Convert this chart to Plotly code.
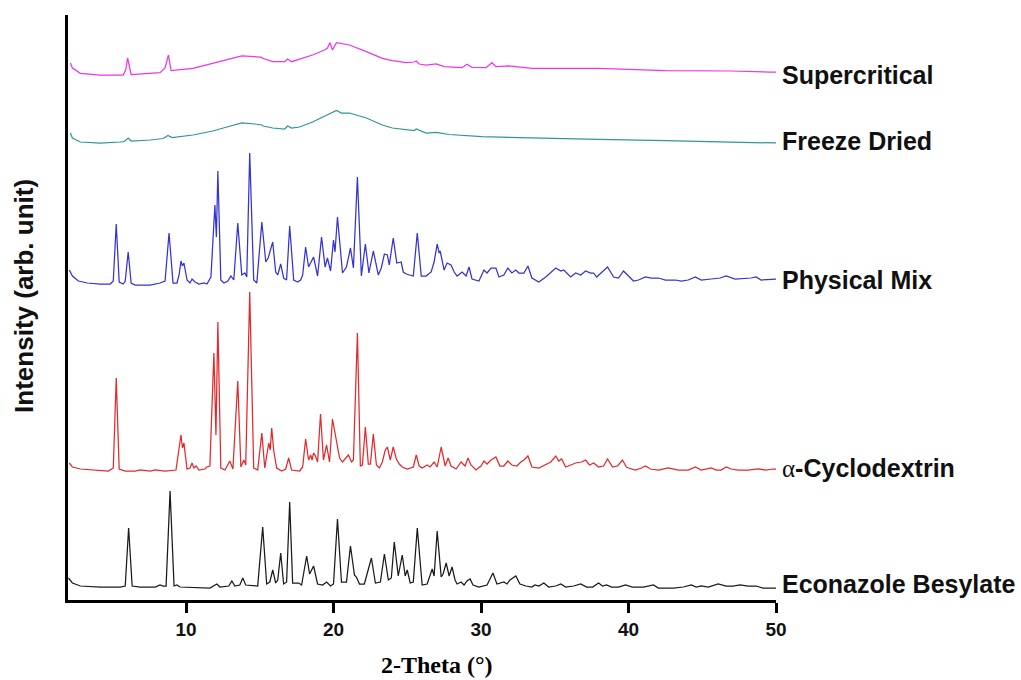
import plotly.graph_objects as go

# ---- X-ray powder diffraction patterns (2-theta in degrees, intensity in arb. units) ----
econazole_tt = [2.03, 2.30, 2.84, 4.19, 5.54, 5.88, 6.11, 6.35, 6.89, 7.91, 8.24, 8.45, 8.65, 8.92, 9.19,
                9.39, 9.59, 11.62, 12.09, 12.30, 12.90, 13.11, 13.31, 13.65, 13.85, 14.05, 14.86, 15.20,
                15.47, 15.68, 15.88, 16.08, 16.22, 16.42, 16.62, 16.82, 17.03, 17.23, 17.64, 17.84, 18.18,
                18.38, 18.65, 18.92, 19.26, 19.53, 19.80, 20.00, 20.27, 20.54, 20.88, 21.15, 21.42, 21.55,
                21.76, 22.09, 22.57, 22.84, 23.18, 23.45, 23.72, 23.92, 24.12, 24.39, 24.66, 24.86, 25.00,
                25.20, 25.41, 25.68, 26.01, 26.35, 26.69, 26.82, 27.03, 27.30, 27.43, 27.64, 27.84, 28.04,
                28.24, 28.38, 28.65, 28.85, 29.05, 29.26, 29.46, 29.86, 30.41, 30.81, 31.08, 31.55, 31.76,
                31.96, 32.36, 32.64, 33.04, 33.45, 33.65, 33.92, 34.26, 34.59, 35.07, 35.41, 35.74, 36.28,
                36.76, 37.16, 37.57, 37.97, 38.24, 38.51, 38.85, 39.32, 39.80, 40.27, 41.01, 41.69, 42.03,
                43.04, 43.72, 44.26, 44.59, 44.93, 45.41, 46.08, 46.62, 47.09, 47.57, 48.11, 48.65, 49.12,
                49.80, 50.00]
econazole_int = [10, 5, 2, 1, 1, 2, 60, 2, 1, 1, 3, 2, 2, 97, 2,
                 3, 1, 0, 4, 1, 2, 7, 2, 3, 10, 3, 2, 61,
                 4, 6, 18, 5, 8, 35, 4, 6, 86, 5, 5, 3, 32,
                 14, 22, 4, 3, 6, 2, 4, 69, 6, 6, 42, 13, 11,
                 4, 4, 30, 5, 6, 34, 8, 10, 46, 12, 33, 12, 18,
                 5, 6, 60, 3, 4, 19, 12, 57, 11, 14, 25, 12, 21,
                 8, 4, 6, 3, 7, 9, 3, 1, 3, 15, 4, 6, 4,
                 8, 12, 4, 2, 1, 3, 2, 5, 1, 2, 4, 1, 2,
                 4, 1, 1, 5, 2, 3, 1, 1, 3, 1, 1, 3, 0,
                 0, 1, 3, 1, 2, 1, 4, 2, 2, 3, 2, 2, 0,
                 0, 0]

cyclodextrin_tt = [2.09, 2.30, 2.84, 4.19, 4.73, 5.07, 5.27, 5.47, 5.88, 6.55, 6.89, 7.57, 7.91, 8.58, 9.32,
                   9.66, 9.76, 9.86, 10.07, 10.27, 10.41, 10.54, 10.68, 10.88, 11.28, 11.42, 11.62, 11.89,
                   12.03, 12.16, 12.36, 12.64, 12.97, 13.18, 13.51, 13.72, 13.92, 14.05, 14.32, 14.59, 14.86,
                   15.14, 15.34, 15.61, 15.71, 15.81, 15.95, 16.15, 16.49, 16.76, 16.96, 17.16, 17.70, 17.91,
                   18.11, 18.31, 18.45, 18.55, 18.65, 18.78, 18.92, 19.12, 19.32, 19.53, 19.73, 19.93, 20.17,
                   20.41, 20.61, 20.81, 21.01, 21.22, 21.35, 21.62, 21.82, 21.96, 22.16, 22.36, 22.50, 22.70,
                   22.91, 23.11, 23.31, 23.51, 23.65, 23.85, 24.05, 24.26, 24.46, 24.66, 25.00, 25.41, 25.61,
                   25.81, 26.01, 26.35, 26.55, 26.82, 27.03, 27.30, 27.57, 27.77, 27.97, 28.31, 28.65, 28.92,
                   29.12, 29.32, 29.66, 30.00, 30.20, 30.41, 30.68, 31.01, 31.28, 31.55, 31.82, 32.09, 32.43,
                   32.70, 32.91, 33.18, 33.45, 33.92, 34.32, 34.73, 35.07, 35.27, 35.47, 35.74, 36.42, 36.82,
                   37.09, 37.36, 37.64, 37.97, 38.31, 38.58, 38.92, 39.26, 39.59, 39.86, 40.00, 40.47, 40.88,
                   41.15, 41.49, 42.03, 42.70, 43.38, 44.05, 44.53, 44.93, 45.34, 45.61, 45.95, 46.28, 46.62,
                   46.96, 47.43, 48.11, 48.78, 49.32, 49.80, 50.00]
cyclodextrin_int = [9, 5, 3, 2, 1, 4, 94, 3, 1, 1, 2, 1, 2, 1, 2,
                    37, 24, 29, 3, 4, 9, 4, 6, 2, 3, 5, 6, 119,
                    37, 150, 4, 2, 11, 3, 91, 5, 12, 7, 180, 4, 2,
                    39, 4, 29, 22, 44, 21, 4, 1, 3, 14, 2, 1, 5,
                    33, 12, 17, 12, 19, 16, 10, 58, 12, 27, 10, 53, 32,
                    14, 10, 14, 17, 10, 12, 139, 6, 7, 45, 8, 8, 38,
                    7, 4, 10, 22, 25, 12, 25, 13, 8, 5, 3, 5, 17,
                    6, 4, 7, 5, 10, 5, 25, 6, 14, 6, 3, 10, 6,
                    14, 7, 2, 6, 11, 8, 12, 15, 6, 6, 11, 7, 6,
                    10, 12, 16, 5, 4, 7, 10, 16, 11, 13, 5, 9, 10,
                    12, 7, 9, 5, 6, 13, 5, 6, 12, 5, 4, 2, 4,
                    6, 3, 2, 4, 2, 2, 5, 2, 3, 4, 2, 2, 5,
                    3, 2, 2, 3, 2, 3, 3]

physical_mix_tt = [2.09, 2.30, 2.70, 3.31, 4.19, 4.86, 5.07, 5.27, 5.47, 5.74, 5.88, 6.08, 6.28, 6.55, 7.57,
                   8.04, 8.24, 8.58, 8.85, 9.12, 9.39, 9.53, 9.66, 9.76, 9.86, 10.07, 10.27, 10.41, 10.61,
                   10.88, 11.22, 11.42, 11.69, 11.96, 12.06, 12.16, 12.36, 12.57, 12.84, 13.04, 13.24, 13.51,
                   13.78, 13.99, 14.12, 14.32, 14.59, 14.80, 15.14, 15.41, 15.57, 15.88, 16.08, 16.22, 16.42,
                   16.62, 16.82, 17.03, 17.30, 17.57, 17.77, 17.91, 18.11, 18.31, 18.65, 18.92, 19.19, 19.43,
                   19.59, 19.80, 20.00, 20.10, 20.27, 20.61, 20.88, 21.15, 21.35, 21.62, 21.89, 22.16, 22.40,
                   22.70, 23.04, 23.24, 23.45, 23.65, 23.78, 24.05, 24.29, 24.59, 24.73, 24.93, 25.14, 25.41,
                   25.68, 25.95, 26.28, 26.62, 26.82, 27.03, 27.16, 27.23, 27.50, 27.70, 27.97, 28.18, 28.38,
                   28.72, 28.99, 29.19, 29.39, 29.86, 30.20, 30.41, 30.68, 31.01, 31.22, 31.55, 31.82, 32.09,
                   32.36, 32.57, 32.91, 33.18, 33.45, 33.92, 34.39, 35.07, 35.41, 35.61, 36.08, 36.42, 36.76,
                   37.09, 37.43, 37.64, 37.84, 38.58, 38.99, 39.32, 39.66, 40.00, 40.34, 40.68, 41.15, 41.55,
                   42.03, 42.50, 43.18, 43.58, 44.05, 44.53, 44.93, 45.61, 46.22, 46.62, 47.23, 48.31, 48.65,
                   48.99, 49.66, 50.00]
physical_mix_int = [17, 11, 6, 4, 3, 3, 6, 63, 5, 3, 6, 35, 4, 2, 2,
                    3, 4, 6, 54, 4, 4, 12, 26, 21, 24, 7, 4, 8, 5,
                    3, 4, 3, 10, 82, 50, 116, 7, 4, 6, 11, 7, 64,
                    12, 14, 10, 134, 7, 4, 65, 25, 29, 45, 15, 12, 23,
                    9, 7, 61, 7, 5, 7, 12, 40, 20, 30, 11, 50, 20,
                    29, 16, 47, 35, 70, 14, 20, 39, 19, 110, 11, 43, 14,
                    36, 12, 19, 33, 32, 22, 49, 24, 25, 15, 13, 12, 11,
                    54, 11, 11, 15, 25, 43, 34, 36, 17, 24, 22, 15, 11,
                    15, 11, 20, 8, 6, 17, 14, 19, 19, 10, 12, 19, 14,
                    17, 14, 14, 21, 9, 5, 10, 19, 16, 17, 10, 14, 12,
                    16, 14, 14, 10, 20, 10, 9, 16, 11, 6, 7, 10, 9,
                    9, 7, 7, 6, 7, 10, 7, 8, 9, 11, 8, 9, 10,
                    7, 8, 8]

freeze_dried_tt = [2.16, 2.30, 2.84, 4.19, 5.54, 5.81, 6.08, 6.28, 7.57, 8.45, 8.78, 9.05, 10.47, 11.82,
                   12.77, 13.78, 14.66, 15.14, 15.24, 15.88, 16.69, 16.89, 17.16, 17.70, 18.58, 19.26, 19.93,
                   20.20, 20.54, 21.08, 22.23, 23.31, 23.99, 24.93, 25.47, 25.61, 26.28, 26.96, 27.84,
                   30.07, 33.45, 37.97, 42.50, 46.96, 49.66, 50.00]
freeze_dried_int = [10, 5, 1, 0, 1, 1.5, 5, 2, 3, 4.5, 7.5, 5.5, 8, 12,
                    16, 20, 19, 18, 17, 15, 14, 17, 15, 16, 21, 26, 31,
                    32.5, 30, 30, 25, 18, 15, 13, 12.5, 14, 10, 10.5, 8.5,
                    6.3, 5, 3.7, 2.3, 1.3, 0.3, 0]

supercritical_tt = [2.16, 2.30, 2.84, 4.19, 5.74, 5.91, 6.04, 6.18, 6.28, 8.24, 8.58, 8.81, 8.99, 10.47,
                    11.82, 12.77, 13.78, 14.66, 15.14, 15.20, 15.88, 16.69, 16.89, 17.16, 18.58, 19.39, 19.59,
                    19.76, 19.93, 20.20, 21.08, 22.23, 23.31, 23.99, 24.93, 25.47, 25.61, 25.81, 26.28, 26.96,
                    27.50, 28.72, 29.05, 29.39, 30.34, 30.74, 31.01, 31.89, 33.45, 35.74, 37.97, 42.50, 46.96,
                    49.66, 50.00]
supercritical_int = [12, 7, 1.7, 0, 0, 5, 17, 5, 0.5, 2.3, 7, 20, 4.5, 6.7,
                     11.7, 15.7, 19, 18.3, 17.7, 16.7, 13.3, 13.3, 16, 13.3, 20, 25, 27,
                     32.3, 25, 32.3, 30, 23.3, 16.7, 14.3, 12.3, 13, 14, 11, 10, 11,
                     8.3, 7.3, 10.7, 7.7, 7.3, 12.3, 8.3, 9, 6.7, 6.7, 6.7, 4.3, 4,
                     3, 3]

sample_names = ["Econazole Besylate", "α-Cyclodextrin", "Physical Mix", "Freeze Dried", "Supercritical"]
label_texts = ["Econazole Besylate",
               "<span style='font-family:\"Liberation Serif\", \"Times New Roman\", serif;"
               "font-weight:normal'>α</span>-Cyclodextrin",
               "Physical Mix", "Freeze Dried", "Supercritical"]

# vertical stacking offset of each pattern, and nudge of its end label (px)
offsets = [9, 125, 310, 454, 522]
label_nudge = [4, 1, -1, 2, -3]
colors = ["#1a1a1a", "#e3292c", "#3434d0", "#2f9893", "#ec35ec"]

patterns = [
    (econazole_tt, econazole_int),
    (cyclodextrin_tt, cyclodextrin_int),
    (physical_mix_tt, physical_mix_int),
    (freeze_dried_tt, freeze_dried_int),
    (supercritical_tt, supercritical_int),
]

sans = "Liberation Sans, Arial, Helvetica, sans-serif"
serif = "Liberation Serif, Times New Roman, serif"

fig = go.Figure()
annotations = []
for name, label, (tt, inten), off, nudge, col in zip(sample_names, label_texts, patterns, offsets,
                                                     label_nudge, colors):
    ys = [v + off for v in inten]
    fig.add_trace(go.Scatter(x=tt, y=ys, mode="lines", name=name,
                             line=dict(color=col, width=1.25), showlegend=False))
    annotations.append(dict(x=50, y=ys[-1], xref="x", yref="y", text=label, showarrow=False,
                            xanchor="left", yanchor="middle", xshift=4, yshift=nudge,
                            font=dict(family=sans, size=25, color="#111", weight="bold")))

annotations.append(dict(x=0.521, y=-0.111, xref="paper", yref="paper", text="2-Theta (°)",
                        showarrow=False, xanchor="center", yanchor="middle",
                        font=dict(family=serif, size=24, color="#000", weight=900)))
annotations.append(dict(x=-0.062, y=0.52, xref="paper", yref="paper", text="Intensity (arb. unit)",
                        showarrow=False, xanchor="center", yanchor="middle", textangle=-90,
                        font=dict(family=sans, size=26, color="#111", weight="bold")))

fig.update_layout(
    width=1021, height=680,
    margin=dict(l=68, r=245, t=15, b=80),
    paper_bgcolor="white", plot_bgcolor="white",
    annotations=annotations,
    xaxis=dict(range=[2, 50], tickvals=[10, 20, 30, 40, 50], ticks="outside", ticklen=10, tickwidth=2.5,
               tickcolor="black", showline=True, linewidth=2.5, linecolor="black", showgrid=False,
               zeroline=False,
               tickfont=dict(family=sans, size=19, color="#111", weight="bold")),
    yaxis=dict(range=[-3, 582], showline=True, linewidth=3, linecolor="black", showgrid=False,
               zeroline=False, showticklabels=False, ticks=""),
)

fig.write_html("out.html")
